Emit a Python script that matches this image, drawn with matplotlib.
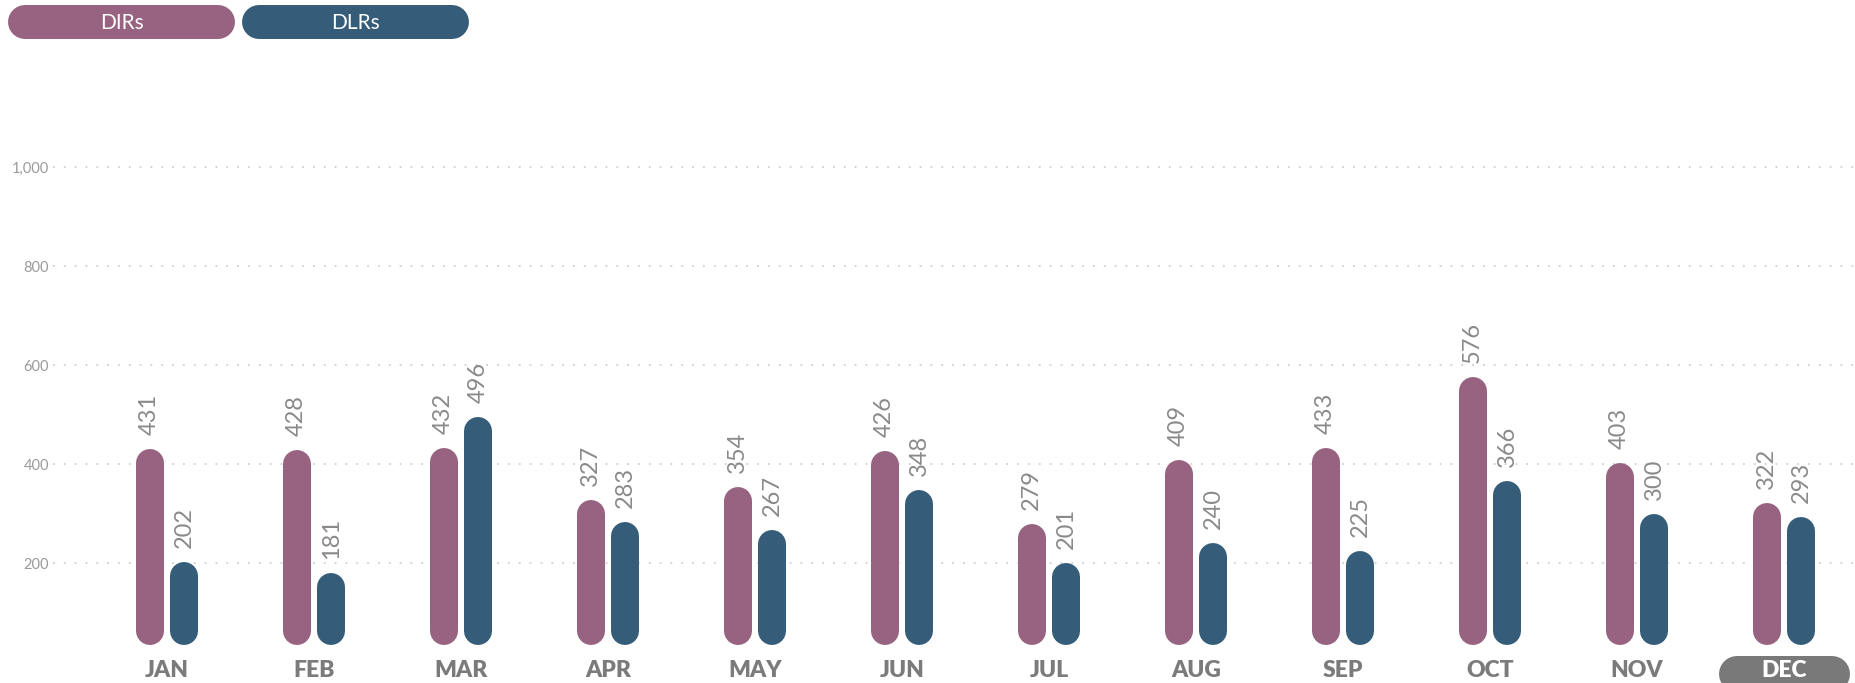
import matplotlib
matplotlib.use("Agg")
import matplotlib.pyplot as plt
import numpy as np

plt.rcParams['font.family'] = ['Lato', 'DejaVu Sans']

months = ["JAN", "FEB", "MAR", "APR", "MAY", "JUN", "JUL", "AUG", "SEP", "OCT", "NOV", "DEC"]
dirs = [431, 428, 432, 327, 354, 426, 279, 409, 433, 576, 403, 322]
dlrs = [202, 181, 496, 283, 267, 348, 201, 240, 225, 366, 300, 293]
series_names = ["DIRs", "DLRs"]
yticks = [200, 400, 600, 800, 1000]

C_DIR = "#976380"
C_DLR = "#355D7A"
GRID = "#cfcfcf"
TXT = "#8a8a8a"
MONTH_C = "#7b7b7b"

W, H = 1855, 683
DPI = 100
PT = 72 / DPI  # points per pixel
fig = plt.figure(figsize=(W / DPI, H / DPI), dpi=DPI)

ax_left_px, ax_bottom_px = 53, 645
ax = fig.add_axes([ax_left_px / W, (H - ax_bottom_px) / H, (W - ax_left_px) / W, ax_bottom_px / H])

px_per_unit_y = 0.495
zero_px = 662.2
ymin = (zero_px - ax_bottom_px) / px_per_unit_y
ymax = zero_px / px_per_unit_y
ax.set_ylim(ymin, ymax)

spacing_px = 147.0
first_px = 167.0
xmin = -(first_px - ax_left_px) / spacing_px
xmax = 11 + (W - (first_px + 11 * spacing_px)) / spacing_px
ax.set_xlim(xmin, xmax)

x = np.arange(len(months))
bar_px = 28
off = 17.4 / spacing_px
r_y = (bar_px / 2) / px_per_unit_y

for xs, vals, col in [(x - off, dirs, C_DIR), (x + off, dlrs, C_DLR)]:
    for xi, v in zip(xs, vals):
        ax.plot([xi, xi], [ymin + r_y, v - r_y], color=col, lw=bar_px * PT,
                solid_capstyle="round", zorder=2, clip_on=False)
        ax.text(xi, v + 14 / px_per_unit_y, f"{v}", rotation=90, ha="center", va="bottom",
                fontsize=17, color=TXT, zorder=3)

for t in yticks:
    ax.axhline(t, color=GRID, lw=1.3, ls=(0, (1, 5)), zorder=0)

ax.set_yticks(yticks)
ax.set_yticklabels([f"{t:,}" for t in yticks], fontsize=10.5, color="#9a9a9a")
ax.tick_params(axis="y", length=0, pad=3)

ax.set_xticks(x)
ax.set_xticklabels(months, fontsize=16.5, fontweight="heavy", color=MONTH_C)
ax.tick_params(axis="x", length=0, pad=11)
ax.get_xticklabels()[-1].set_color("white")

# DEC highlight pill (horizontal thick line with round caps)
pill_w_px = 131
pill_h_px = 36
pill_cy = (zero_px - (656 + pill_h_px / 2)) / px_per_unit_y
half = (pill_w_px / 2 - pill_h_px / 2) / spacing_px
ax.plot([11 - half, 11 + half], [pill_cy, pill_cy], color="#797979", lw=pill_h_px * PT,
        solid_capstyle="round", zorder=1, clip_on=False)

for s in ax.spines.values():
    s.set_visible(False)

# legend pills
lax = fig.add_axes([0, 0, 1, 1])
lax.set_xlim(0, W)
lax.set_ylim(H, 0)
lax.axis("off")
for (x0, x1), name, col in [((8, 235), series_names[0], C_DIR), ((242, 469), series_names[1], C_DLR)]:
    y0, y1 = 5, 39
    hh = y1 - y0
    lax.plot([x0 + hh / 2, x1 - hh / 2], [(y0 + y1) / 2] * 2, color=col, lw=hh * PT,
             solid_capstyle="round")
    lax.text((x0 + x1) / 2, (y0 + y1) / 2 + 1, name, ha="center", va="center", color="white",
             fontsize=15)

fig.savefig("out.png", dpi=DPI)
